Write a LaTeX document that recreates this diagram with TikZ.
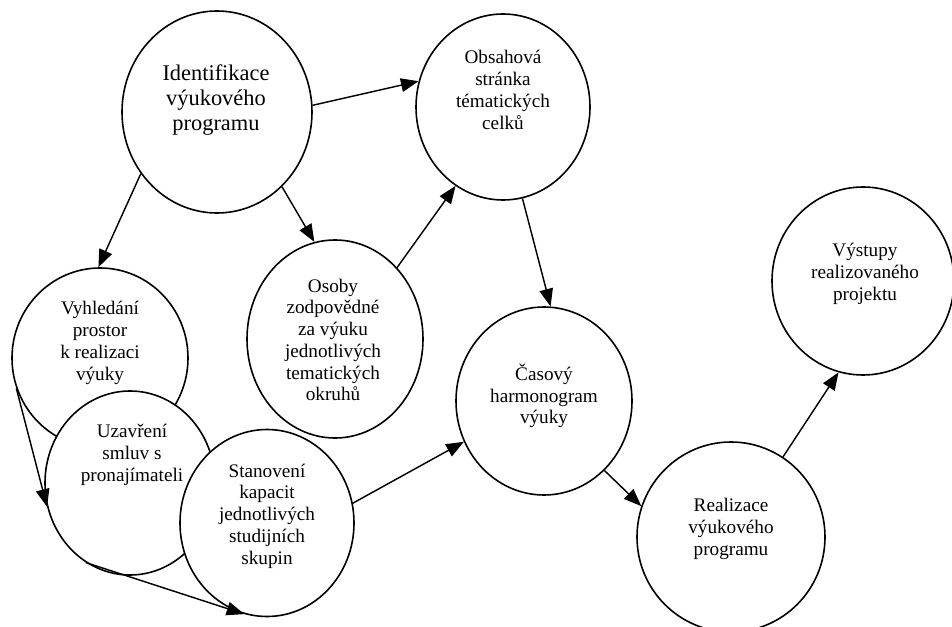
\documentclass[tikz,border=0pt]{standalone}
\usepackage{fontspec}
\setmainfont{Liberation Serif}
\usetikzlibrary{shapes.geometric,arrows.meta}
\tikzset{bubble/.style 2 args={draw,ellipse,line width=1pt,fill=white,inner sep=0pt,
  minimum width=#1*0.625pt,minimum height=#2*0.625pt},
  txt/.style={align=center,inner sep=0pt,font=\fontsize{12}{13.6}\selectfont},
  arr/.style={line width=0.9pt,-{Triangle[length=11pt,width=8.5pt]}}}

\begin{document}
\begin{tikzpicture}[x=0.625pt,y=-0.625pt]
 \useasboundingbox (0,0) rectangle (952,627);
 % ellipses, back to front
 \node[bubble={190}{202}] (ident) at (217,112) {};
 \node[bubble={174}{186}] (obsah) at (503,107) {};
 \node[bubble={176}{198}] (osoby) at (335,339) {};
 \node[bubble={176}{180}] (vyhl) at (100,358) {};
 \node[bubble={170}{184}] (uzav) at (130,483) {};
 \node[bubble={174}{187}] (stanov) at (267,523) {};
 \node[bubble={176}{188}] (casovy) at (544,401) {};
 \node[bubble={188}{190}] (realiz) at (731,537) {};
 \node[bubble={182}{188}] (vystup) at (863,281) {};
 % texts
 \node[txt,font=\fontsize{14}{15.8}\selectfont] (identlbl) at (216,100) {Identifikace\\výukového\\programu};
 \node[txt] (obsahlbl) at (503,90) {Obsahová\\stránka\\tématických\\celků};
 \node[txt] (osobylbl) at (333,340) {Osoby\\zodpovědné\\za výuku\\jednotlivých\\tematických\\okruhů};
 \node[txt] (vyhllbl) at (100,343) {Vyhledání\\prostor\\k realizaci\\výuky};
 \node[txt] (uzavlbl) at (132,455) {Uzavření\\smluv s\\pronajímateli};
 \node[txt] (stanovlbl) at (267,516) {Stanovení\\kapacit\\jednotlivých\\studijních\\skupin};
 \node[txt] (casovylbl) at (544,396) {Časový\\harmonogram\\výuky};
 \node[txt] (realizlbl) at (731,529) {Realizace\\výukového\\programu};
 \node[txt] (vystuplbl) at (865,274) {Výstupy\\realizovaného\\projektu};
 % arrows
 \draw[arr] (ident.4) -- (obsah.163);
 \draw[arr] (ident.219) -- (vyhl.91);
 \draw[arr] (ident.311) -- (osoby.102);
 \draw[arr] (osoby.49) -- (obsah.239);
 \draw[arr] (obsah.282) -- (casovy.86);
 \draw[arr] (stanov.13) -- (casovy.207);
 \draw[arr] (casovy.311) -- (realiz.161);
 \draw[arr] (realiz.57) -- (vystup.255);
 \draw[arr] (vyhl.200) -- (uzav.196);
 \draw[arr] (uzav.241) -- (stanov.256);
\end{tikzpicture}
\end{document}
